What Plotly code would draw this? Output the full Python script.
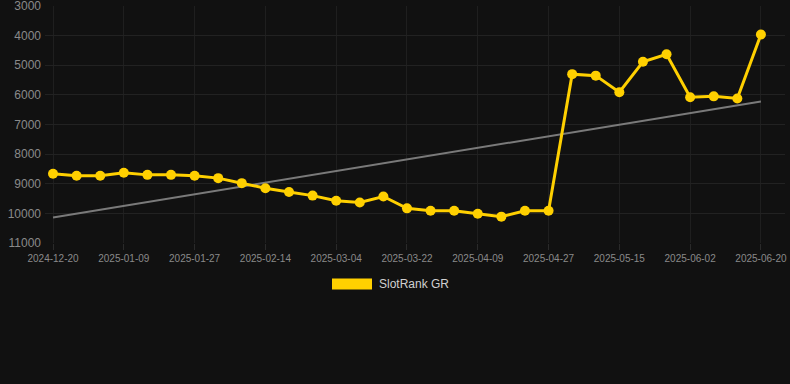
import plotly.graph_objects as go

dates = ["2024-12-20", "2024-12-27", "2025-01-03", "2025-01-09", "2025-01-15", "2025-01-21",
         "2025-01-27", "2025-02-02", "2025-02-08", "2025-02-14", "2025-02-20", "2025-02-26",
         "2025-03-04", "2025-03-10", "2025-03-16", "2025-03-22", "2025-03-28", "2025-04-03",
         "2025-04-09", "2025-04-15", "2025-04-21", "2025-04-27", "2025-05-03", "2025-05-09",
         "2025-05-15", "2025-05-21", "2025-05-27", "2025-06-02", "2025-06-08", "2025-06-14",
         "2025-06-20"]
ranks = [8660, 8730, 8730, 8630, 8700, 8700, 8730, 8810, 8980, 9150, 9280, 9400,
         9575, 9630, 9430, 9830, 9910, 9910, 10010, 10110, 9910, 9910, 5300, 5350,
         5910, 4880, 4630, 6080, 6050, 6120, 3960]
trend_x = ["2024-12-20", "2025-06-20"]
trend_y = [10140, 6220]
tick_labels = dates[::3]
y_ticks = [3000, 4000, 5000, 6000, 7000, 8000, 9000, 10000, 11000]
y_tick_text = ["3000", "4000", "5000", "6000", "7000", "8000", "9000", "10000", "11000"]
series_name = "SlotRank GR"

yellow = "#FFD000"
fig = go.Figure()
fig.add_trace(go.Scatter(x=trend_x, y=trend_y, mode="lines",
                         line=dict(color="#7a7a7a", width=2), showlegend=False,
                         hoverinfo="skip"))
fig.add_trace(go.Scatter(x=dates, y=ranks, mode="lines+markers", name=series_name,
                         line=dict(color=yellow, width=3),
                         marker=dict(color=yellow, size=10), showlegend=False))

fig.update_layout(
    width=790, height=384,
    paper_bgcolor="#111111", plot_bgcolor="#111111",
    margin=dict(l=45, r=5, t=6, b=141),
    font=dict(family="Liberation Sans, Arial, sans-serif", color="#8a8a8a"),
    xaxis=dict(type="category", categoryorder="array", categoryarray=dates,
               range=[-0.34, 31.02], tickmode="array", tickvals=tick_labels,
               ticktext=tick_labels, tickfont=dict(size=10, color="#8a8a8a"),
               showgrid=True, gridcolor="#1f1f1f", gridwidth=1,
               ticks="outside", ticklen=6, tickcolor="#2a2a2a",
               showline=False, zeroline=False, tickangle=0,
               ticklabeloverflow="allow", automargin=False),
    yaxis=dict(range=[11000, 2999], tickmode="array", tickvals=y_ticks,
               ticktext=y_tick_text,
               tickfont=dict(size=12, color="#8a8a8a"),
               showgrid=True, gridcolor="#222222", gridwidth=1,
               zeroline=False, showline=False, ticks="", ticklabelstandoff=3,
               ticklabeloverflow="allow", automargin=False),
    showlegend=False,
)

# legend drawn manually: coloured box + label
fig.add_shape(type="rect", xref="paper", yref="paper",
              x0=(332 - 45) / 740, x1=(372 - 45) / 740,
              y0=(384 - 141 - 289.5) / 237, y1=(384 - 141 - 278.5) / 237,
              fillcolor=yellow, line=dict(width=0))
fig.add_annotation(xref="paper", yref="paper", x=(377 - 45) / 740,
                   y=(384 - 141 - 284) / 237, text=series_name, showarrow=False,
                   xanchor="left", yanchor="middle",
                   font=dict(size=12, color="#d0d0d0"))

fig.write_html("out.html", config={"displayModeBar": False},
               post_script="document.body.style.margin='0';"
                           "document.body.style.background='#111111';")
